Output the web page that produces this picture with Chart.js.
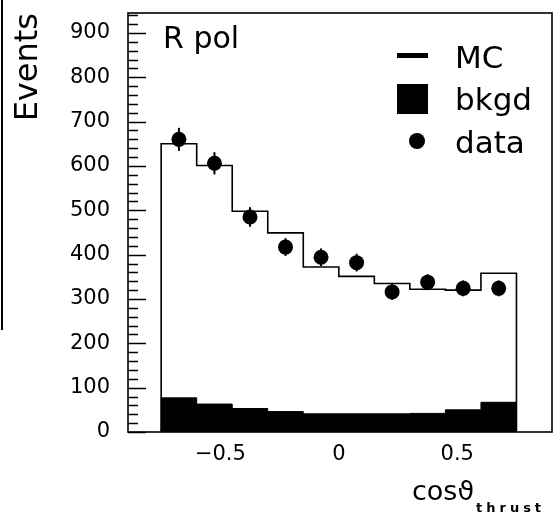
<!DOCTYPE html>
<html><head><meta charset="utf-8">
<script src="https://cdn.jsdelivr.net/npm/chart.js@4.4.1/dist/chart.umd.min.js"></script>
<style>html,body{margin:0;padding:0;background:#fff;}canvas{display:block;}</style>
</head><body>
<canvas id="c" width="554" height="514"></canvas>
<script>
// ---- data ----
const binEdges   = [-0.75, -0.6, -0.45, -0.3, -0.15, 0, 0.15, 0.3, 0.45, 0.6, 0.75];
const mcValues   = [650, 601, 498, 449, 372, 351, 335, 322, 320, 358];
const bkgdValues = [77, 63, 53, 46, 41, 41, 41, 42, 50, 67];
const dataValues = [660, 606, 485, 417, 394, 382, 316, 338, 324, 324];
const dataErrors = [26, 25, 22, 20, 20, 20, 18, 18, 18, 18];
const xTickValues = [-0.5, 0, 0.5];
const yTickValues = [0, 100, 200, 300, 400, 500, 600, 700, 800, 900];
const seriesLabels = ['MC', 'bkgd', 'data'];
const panelLabel = 'R pol';

const FONT = '"DejaVu Sans", sans-serif';

function stepPoints(values) {
  const last = binEdges.length - 1;
  const pts = [{x: binEdges[0], y: 0}];
  values.forEach((v, i) => pts.push({x: binEdges[i], y: v}));
  pts.push({x: binEdges[last], y: values[values.length - 1]});
  pts.push({x: binEdges[last], y: 0});
  return pts;
}
const dataPoints = dataValues.map((v, i) => ({x: (binEdges[i] + binEdges[i + 1]) / 2, y: v}));

function noPad(s) { s.paddingTop = 0; s.paddingBottom = 0; s.paddingLeft = 0; s.paddingRight = 0; }

const decor = {
  id: 'decor',
  beforeDraw(chart) {
    const ctx = chart.ctx;
    ctx.save();
    ctx.fillStyle = '#fff';
    ctx.fillRect(0, 0, chart.width, chart.height);
    ctx.restore();
  },
  afterDatasetsDraw(chart) {
    const ctx = chart.ctx, a = chart.chartArea;
    const xs = chart.scales.x, ys = chart.scales.y;
    ctx.save();
    // error bars
    ctx.strokeStyle = '#000'; ctx.lineWidth = 2;
    dataPoints.forEach((p, i) => {
      const px = xs.getPixelForValue(p.x);
      ctx.beginPath();
      ctx.moveTo(px, ys.getPixelForValue(p.y - dataErrors[i]));
      ctx.lineTo(px, ys.getPixelForValue(p.y + dataErrors[i]));
      ctx.stroke();
    });
    // frame
    ctx.lineWidth = 1.6;
    ctx.strokeRect(a.left, a.top, a.right - a.left, a.bottom - a.top);
    // inward y ticks (major every 100, minor every 20)
    ctx.lineWidth = 1.5;
    for (let v = 0; v <= ys.max; v += 20) {
      const py = Math.round(ys.getPixelForValue(v)) + 0.5;
      const len = (v % 100 === 0) ? 18 : 10;
      ctx.beginPath(); ctx.moveTo(a.left, py); ctx.lineTo(a.left + len, py); ctx.stroke();
    }
    // panel label
    ctx.fillStyle = '#000';
    ctx.font = '30px ' + FONT;
    ctx.textBaseline = 'alphabetic'; ctx.textAlign = 'left';
    ctx.fillText(panelLabel, a.left + 35, a.top + 35);
    // legend
    const sx = a.right - 155, tx = a.right - 97;
    ctx.font = '31px ' + FONT;
    ctx.fillRect(sx, a.top + 40, 31, 5);
    ctx.fillText(seriesLabels[0], tx, a.top + 55);
    ctx.fillRect(sx, a.top + 71, 31, 30);
    ctx.fillText(seriesLabels[1], tx, a.top + 97);
    ctx.beginPath(); ctx.arc(sx + 20, a.top + 128, 8, 0, Math.PI * 2); ctx.fill();
    ctx.fillText(seriesLabels[2], tx, a.top + 140);
    // x-axis title with subscript
    ctx.font = '27px ' + FONT;
    ctx.fillText('cos\u03D1', a.right - 140, 500);
    ctx.font = 'bold 13px ' + FONT;
    try { ctx.letterSpacing = '4px'; } catch (e) {}
    ctx.fillText('thrust', a.right - 76, 512);
    try { ctx.letterSpacing = '0px'; } catch (e) {}
    // scanned page edge on the left
    ctx.lineWidth = 2;
    ctx.beginPath(); ctx.moveTo(2, 0); ctx.lineTo(2, 330); ctx.stroke();
    ctx.restore();
  }
};

new Chart(document.getElementById('c'), {
  type: 'line',
  data: {
    datasets: [
      {label: seriesLabels[1], data: stepPoints(bkgdValues), stepped: true, fill: 'origin',
       backgroundColor: '#000', borderColor: '#000', borderWidth: 1, pointRadius: 0, order: 3},
      {label: seriesLabels[0], data: stepPoints(mcValues), stepped: true, fill: false,
       borderColor: '#000', borderWidth: 1.6, pointRadius: 0, order: 2},
      {label: seriesLabels[2], type: 'scatter', data: dataPoints, showLine: false,
       pointRadius: 7.5, pointBackgroundColor: '#000', pointBorderWidth: 0, order: 1}
    ]
  },
  options: {
    responsive: false, animation: false, devicePixelRatio: 1,
    layout: {autoPadding: false, padding: {top: 13, right: 2, left: 0, bottom: 0}},
    plugins: {legend: {display: false}, tooltip: {enabled: false}},
    scales: {
      x: {
        type: 'linear', min: -0.89, max: 0.9,
        grid: {display: false, drawTicks: false}, border: {display: false},
        afterBuildTicks: s => { s.ticks = xTickValues.map(v => ({value: v})); },
        afterFit: s => { s.height = 82; noPad(s); },
        ticks: {
          padding: 10, color: '#000', font: {family: FONT, size: 21},
          maxRotation: 0, autoSkip: false,
          callback: v => (v < 0 ? '\u2212' : '') + (v === 0 ? '0' : Math.abs(v).toFixed(1))
        }
      },
      y: {
        min: 0, max: 945,
        grid: {display: false, drawTicks: false}, border: {display: false},
        afterBuildTicks: s => { s.ticks = yTickValues.map(v => ({value: v})); },
        afterFit: s => { s.width = 128; noPad(s); },
        ticks: {padding: 18, color: '#000', font: {family: FONT, size: 21}},
        title: {display: true, text: 'Events', align: 'end', color: '#000',
                font: {family: FONT, size: 32}, padding: {top: 9, bottom: 0}}
      }
    }
  },
  plugins: [decor]
});
</script>
</body></html>
